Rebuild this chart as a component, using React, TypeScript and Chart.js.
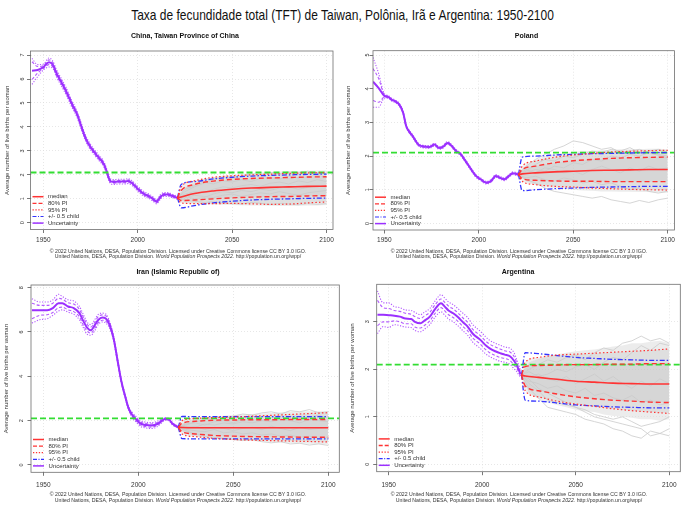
import { useEffect, useRef } from 'react';
import { Chart, registerables } from 'chart.js';

Chart.register(...registerables);

const MAIN_TITLE = 'Taxa de fecundidade total (TFT) de Taiwan, Polônia, Irã e Argentina: 1950-2100';
const Y_TITLE = 'Average number of live births per woman';
const FOOT_1 = '© 2022 United Nations, DESA, Population Division. Licensed under Creative Commons license CC BY 3.0 IGO.';
const FOOT_2A = 'United Nations, DESA, Population Division. ';
const FOOT_2B = 'World Population Prospects 2022';
const FOOT_2C = '. http://population.un.org/wpp/';
const LEGEND_LABELS = ['median', '80% PI', '95% PI', '+/- 0.5 child', 'Uncertainty'];
const X_TICKS = [1950, 2000, 2050, 2100];
const REPLACEMENT = 2.1;

const PROJ_YEARS = [2021, 2023, 2030, 2040, 2050, 2060, 2070, 2080, 2090, 2100];
const TRAJ_YEARS = [2021, 2025, 2030, 2035, 2040, 2045, 2050, 2055, 2060, 2065, 2070, 2075, 2080, 2085, 2090, 2095, 2100];

// ---- China, Taiwan Province of China
const TW_YEARS = [1944, 1947, 1950, 1953, 1955, 1957, 1960, 1962, 1965, 1968, 1970, 1972, 1974, 1976, 1979, 1982, 1983.5, 1985, 1987, 1990, 1993, 1995, 1997, 2000, 2003, 2006, 2008, 2010, 2012, 2014, 2016, 2018, 2021];
const TW_MED = [6.35, 6.38, 6.5, 6.7, 6.6, 6.23, 5.8, 5.5, 4.98, 4.5, 4.05, 3.6, 3.28, 3.05, 2.75, 2.45, 2.15, 1.8, 1.7, 1.72, 1.72, 1.74, 1.65, 1.42, 1.22, 1.1, 1.0, 0.88, 1.08, 1.18, 1.18, 1.13, 1.04];
const TW_H95 = [6.86, 6.6, 6.62, 6.88, 6.75, 6.38, 5.95, 5.65, 5.12, 4.63, 4.18, 3.72, 3.4, 3.16, 2.86, 2.56, 2.26, 1.9, 1.8, 1.82, 1.82, 1.84, 1.75, 1.52, 1.32, 1.19, 1.09, 0.97, 1.17, 1.26, 1.26, 1.2, 1.1];
const TW_L95 = [5.78, 6.1, 6.38, 6.5, 6.45, 6.08, 5.65, 5.35, 4.84, 4.37, 3.92, 3.48, 3.16, 2.94, 2.64, 2.34, 2.04, 1.7, 1.6, 1.62, 1.62, 1.64, 1.55, 1.32, 1.12, 1.01, 0.91, 0.79, 0.99, 1.1, 1.1, 1.06, 0.98];
const TW_H80 = [6.72, 6.52, 6.56, 6.8, 6.69, 6.31, 5.88, 5.58, 5.05, 4.57, 4.12, 3.66, 3.34, 3.11, 2.81, 2.51, 2.21, 1.85, 1.75, 1.77, 1.77, 1.79, 1.7, 1.47, 1.27, 1.15, 1.05, 0.93, 1.13, 1.22, 1.22, 1.17, 1.07];
const TW_L80 = [5.98, 6.25, 6.44, 6.6, 6.51, 6.15, 5.72, 5.42, 4.91, 4.43, 3.98, 3.54, 3.22, 2.99, 2.69, 2.39, 2.09, 1.75, 1.65, 1.67, 1.67, 1.69, 1.6, 1.37, 1.17, 1.05, 0.95, 0.83, 1.03, 1.14, 1.14, 1.09, 1.01];
const TW_P_MED = [1.04, 1.08, 1.22, 1.33, 1.4, 1.45, 1.48, 1.5, 1.52, 1.53];
const TW_P_H80 = [1.04, 1.35, 1.6, 1.74, 1.81, 1.85, 1.87, 1.89, 1.91, 1.92];
const TW_P_L80 = [1.04, 0.93, 0.95, 1.0, 1.04, 1.07, 1.09, 1.1, 1.12, 1.13];
const TW_P_H95 = [1.04, 1.5, 1.75, 1.9, 1.96, 2.0, 2.03, 2.06, 2.08, 2.1];
const TW_P_L95 = [1.04, 0.83, 0.8, 0.8, 0.81, 0.79, 0.77, 0.78, 0.83, 0.87];
const TW_HALF_HI = [1.04, 1.6, 1.72, 1.83, 1.9, 1.95, 1.98, 2.0, 2.02, 2.03];
const TW_HALF_LO = [1.04, 0.62, 0.72, 0.83, 0.9, 0.95, 0.98, 1.0, 1.02, 1.03];
const TW_GREY_HI = [1.04, 1.45, 1.68, 1.82, 1.9, 1.96, 2.0, 2.04, 2.07, 2.1, 2.12, 2.14, 2.15, 2.16, 2.17, 2.18, 2.18];
const TW_GREY_LO = [1.04, 0.85, 0.8, 0.78, 0.76, 0.75, 0.74, 0.73, 0.72, 0.72, 0.71, 0.7, 0.7, 0.71, 0.72, 0.72, 0.74];
const TW_TRAJ = [
  [1.04, 1.3, 1.5, 1.65, 1.8, 1.9, 1.85, 1.95, 2.05, 2.0, 2.1, 2.05, 2.12, 2.08, 2.15, 2.1, 2.05],
  [1.04, 0.95, 0.9, 0.85, 0.88, 0.82, 0.8, 0.78, 0.85, 0.82, 0.76, 0.8, 0.78, 0.75, 0.8, 0.77, 0.8],
  [1.04, 1.2, 1.3, 1.25, 1.4, 1.5, 1.45, 1.55, 1.6, 1.52, 1.65, 1.7, 1.62, 1.75, 1.68, 1.8, 1.72],
  [1.04, 1.05, 1.15, 1.1, 1.05, 1.15, 1.2, 1.1, 1.18, 1.25, 1.2, 1.3, 1.22, 1.15, 1.25, 1.3, 1.35],
  [1.04, 1.4, 1.55, 1.7, 1.62, 1.75, 1.7, 1.8, 1.72, 1.85, 1.9, 1.82, 1.95, 1.88, 1.92, 1.98, 1.9],
  [1.04, 1.1, 1.0, 1.05, 1.2, 1.3, 1.25, 1.35, 1.3, 1.4, 1.35, 1.45, 1.5, 1.4, 1.48, 1.55, 1.5],
];

// ---- Poland
const PL_YEARS = [1944, 1947, 1950, 1952, 1954, 1956, 1958, 1960, 1961.5, 1963, 1965, 1968, 1970, 1974, 1976.5, 1979, 1981, 1983.5, 1985.5, 1988, 1990.5, 1993, 1996, 1998.5, 2001, 2004, 2006.5, 2009, 2011, 2013.5, 2016, 2018, 2021];
const PL_MED = [4.21, 4.02, 3.79, 3.76, 3.67, 3.62, 3.52, 3.28, 2.9, 2.74, 2.59, 2.34, 2.29, 2.27, 2.34, 2.24, 2.27, 2.39, 2.31, 2.15, 2.05, 1.85, 1.6, 1.41, 1.31, 1.21, 1.26, 1.41, 1.36, 1.31, 1.41, 1.49, 1.45];
const PL_H95 = [4.93, 4.45, 3.85, 3.8, 3.71, 3.66, 3.56, 3.32, 2.94, 2.78, 2.63, 2.38, 2.33, 2.31, 2.38, 2.28, 2.31, 2.43, 2.35, 2.19, 2.09, 1.89, 1.64, 1.45, 1.35, 1.25, 1.3, 1.45, 1.4, 1.35, 1.45, 1.53, 1.49];
const PL_L95 = [3.45, 3.45, 3.72, 3.72, 3.63, 3.58, 3.48, 3.24, 2.86, 2.7, 2.55, 2.3, 2.25, 2.23, 2.3, 2.2, 2.23, 2.35, 2.27, 2.11, 2.01, 1.81, 1.56, 1.37, 1.27, 1.17, 1.22, 1.37, 1.32, 1.27, 1.37, 1.45, 1.41];
const PL_H80 = [4.6, 4.3, 3.82, 3.78, 3.69, 3.64, 3.54, 3.3, 2.92, 2.76, 2.61, 2.36, 2.31, 2.29, 2.36, 2.26, 2.29, 2.41, 2.33, 2.17, 2.07, 1.87, 1.62, 1.43, 1.33, 1.23, 1.28, 1.43, 1.38, 1.33, 1.43, 1.51, 1.47];
const PL_L80 = [3.65, 3.6, 3.75, 3.74, 3.65, 3.6, 3.5, 3.26, 2.88, 2.72, 2.57, 2.32, 2.27, 2.25, 2.32, 2.22, 2.25, 2.37, 2.29, 2.13, 2.03, 1.83, 1.58, 1.39, 1.29, 1.19, 1.24, 1.39, 1.34, 1.29, 1.39, 1.47, 1.43];
const PL_P_MED = [1.45, 1.47, 1.5, 1.53, 1.55, 1.57, 1.58, 1.59, 1.6, 1.6];
const PL_P_H80 = [1.45, 1.6, 1.7, 1.8, 1.86, 1.9, 1.93, 1.95, 1.96, 1.97];
const PL_P_L80 = [1.45, 1.33, 1.28, 1.26, 1.25, 1.25, 1.24, 1.24, 1.24, 1.24];
const PL_P_H95 = [1.45, 1.7, 1.85, 1.96, 2.03, 2.08, 2.12, 2.14, 2.16, 2.17];
const PL_P_L95 = [1.45, 1.25, 1.15, 1.1, 1.08, 1.05, 1.03, 1.01, 1.0, 0.99];
const PL_HALF_HI = [1.45, 1.97, 2.0, 2.03, 2.05, 2.07, 2.08, 2.09, 2.1, 2.1];
const PL_HALF_LO = [1.45, 0.97, 1.0, 1.03, 1.05, 1.07, 1.08, 1.09, 1.1, 1.1];
const PL_GREY_HI = [1.45, 1.7, 1.88, 2.0, 2.05, 2.1, 2.12, 2.15, 2.15, 2.17, 2.18, 2.2, 2.2, 2.2, 2.22, 2.22, 2.2];
const PL_GREY_LO = [1.45, 1.25, 1.15, 1.08, 1.05, 1.02, 1.0, 0.98, 0.97, 0.95, 0.95, 0.94, 0.94, 0.93, 0.93, 0.92, 0.92];
const PL_TRAJ = [
  [1.45, 1.7, 1.9, 2.05, 2.2, 2.3, 2.45, 2.4, 2.3, 2.2, 2.25, 2.1, 2.15, 2.2, 2.1, 2.05, 2.0],
  [1.45, 1.3, 1.2, 1.05, 0.95, 0.9, 0.85, 0.8, 0.75, 0.8, 0.7, 0.65, 0.6, 0.68, 0.62, 0.7, 0.75],
  [1.45, 1.5, 1.6, 1.55, 1.7, 1.65, 1.8, 1.75, 1.9, 1.85, 2.0, 1.95, 2.05, 2.0, 2.1, 2.02, 1.95],
  [1.45, 1.35, 1.4, 1.3, 1.25, 1.35, 1.3, 1.2, 1.25, 1.15, 1.2, 1.1, 1.0, 1.05, 0.95, 0.9, 0.95],
  [1.45, 1.6, 1.5, 1.65, 1.6, 1.5, 1.55, 1.45, 1.6, 1.7, 1.6, 1.5, 1.65, 1.55, 1.7, 1.6, 1.65],
  [1.45, 1.55, 1.75, 1.9, 1.85, 2.0, 1.95, 2.05, 2.15, 2.1, 2.2, 2.15, 2.25, 2.1, 2.15, 2.2, 2.1],
];

// ---- Iran (Islamic Republic of)
const IR_YEARS = [1944, 1948, 1952, 1955, 1958, 1960, 1963, 1966, 1969, 1971, 1973, 1975, 1977, 1979, 1981, 1983, 1985, 1987, 1989, 1991, 1993, 1995, 1997, 1999, 2001, 2004, 2007, 2010, 2012, 2014, 2016, 2018, 2021];
const IR_MED = [6.98, 6.98, 6.98, 7.08, 7.3, 7.3, 7.15, 7.08, 6.85, 6.5, 6.2, 6.08, 6.3, 6.55, 6.65, 6.6, 6.3, 5.7, 4.75, 3.8, 3.12, 2.53, 2.23, 2.05, 1.88, 1.8, 1.78, 1.85, 1.97, 2.08, 2.06, 1.86, 1.7];
const IR_H95 = [7.5, 7.35, 7.35, 7.45, 7.7, 7.6, 7.45, 7.4, 7.15, 6.8, 6.45, 6.33, 6.55, 6.8, 6.85, 6.8, 6.45, 5.82, 4.85, 3.88, 3.2, 2.62, 2.35, 2.18, 2.01, 1.93, 1.91, 1.97, 2.06, 2.14, 2.12, 1.92, 1.74];
const IR_L95 = [6.4, 6.55, 6.6, 6.75, 6.95, 7.0, 6.9, 6.8, 6.55, 6.2, 5.9, 5.85, 6.05, 6.35, 6.45, 6.4, 6.15, 5.6, 4.65, 3.72, 3.04, 2.44, 2.12, 1.92, 1.75, 1.67, 1.65, 1.73, 1.88, 2.02, 2.0, 1.8, 1.66];
const IR_H80 = [7.3, 7.2, 7.2, 7.3, 7.52, 7.48, 7.32, 7.26, 7.02, 6.68, 6.35, 6.22, 6.44, 6.7, 6.77, 6.72, 6.39, 5.77, 4.81, 3.85, 3.17, 2.58, 2.3, 2.12, 1.95, 1.87, 1.85, 1.92, 2.02, 2.11, 2.09, 1.89, 1.72];
const IR_L80 = [6.6, 6.75, 6.78, 6.88, 7.1, 7.12, 7.0, 6.92, 6.68, 6.32, 6.05, 5.95, 6.16, 6.42, 6.53, 6.48, 6.21, 5.64, 4.69, 3.75, 3.07, 2.48, 2.16, 1.98, 1.81, 1.73, 1.71, 1.78, 1.92, 2.05, 2.03, 1.83, 1.68];
const IR_P_MED = [1.7, 1.69, 1.68, 1.68, 1.68, 1.68, 1.68, 1.68, 1.68, 1.68];
const IR_P_H80 = [1.7, 1.88, 1.97, 2.02, 2.03, 2.04, 2.04, 2.05, 2.05, 2.05];
const IR_P_L80 = [1.7, 1.5, 1.4, 1.33, 1.3, 1.28, 1.27, 1.26, 1.25, 1.25];
const IR_P_H95 = [1.7, 2.0, 2.1, 2.14, 2.16, 2.2, 2.24, 2.28, 2.32, 2.36];
const IR_P_L95 = [1.7, 1.4, 1.28, 1.2, 1.15, 1.12, 1.1, 1.08, 1.06, 1.04];
const IR_HALF_HI = [1.7, 2.19, 2.18, 2.18, 2.18, 2.18, 2.18, 2.18, 2.18, 2.18];
const IR_HALF_LO = [1.7, 1.19, 1.18, 1.18, 1.18, 1.18, 1.18, 1.18, 1.18, 1.18];
const IR_GREY_HI = [1.7, 1.95, 2.08, 2.15, 2.2, 2.22, 2.25, 2.28, 2.3, 2.32, 2.35, 2.38, 2.4, 2.4, 2.42, 2.42, 2.42];
const IR_GREY_LO = [1.7, 1.42, 1.3, 1.22, 1.18, 1.15, 1.12, 1.1, 1.08, 1.06, 1.04, 1.02, 1.0, 0.98, 0.96, 0.95, 0.92];
const IR_TRAJ = [
  [1.7, 1.8, 1.95, 2.05, 2.15, 2.1, 2.2, 2.3, 2.25, 2.35, 2.4, 2.3, 2.45, 2.4, 2.5, 2.35, 2.4],
  [1.7, 1.55, 1.4, 1.3, 1.25, 1.2, 1.15, 1.1, 1.15, 1.05, 1.0, 1.05, 0.95, 0.98, 0.9, 0.95, 0.88],
  [1.7, 1.75, 1.7, 1.85, 1.8, 1.9, 1.85, 1.95, 1.9, 2.0, 1.95, 2.05, 2.0, 1.9, 2.05, 2.0, 1.95],
  [1.7, 1.6, 1.55, 1.5, 1.6, 1.45, 1.5, 1.4, 1.45, 1.35, 1.4, 1.3, 1.35, 1.25, 1.3, 1.2, 1.25],
  [1.7, 1.65, 1.75, 1.6, 1.7, 1.65, 1.55, 1.65, 1.7, 1.6, 1.75, 1.65, 1.55, 1.7, 1.6, 1.65, 1.7],
  [1.7, 1.85, 1.9, 1.8, 1.95, 2.0, 1.9, 2.05, 2.1, 2.0, 2.15, 2.1, 2.2, 2.05, 2.15, 2.25, 2.1],
];

// ---- Argentina
const AR_YEARS = [1944, 1947, 1950, 1953, 1956, 1959, 1962, 1964, 1967, 1969, 1972, 1975, 1978, 1980, 1982, 1984.5, 1987, 1990, 1992, 1995, 1999, 2002, 2004, 2007, 2009.5, 2012, 2015, 2017, 2018.5, 2020.5];
const AR_MED = [3.15, 3.15, 3.14, 3.13, 3.11, 3.07, 3.06, 3.0, 2.97, 3.02, 3.11, 3.28, 3.39, 3.32, 3.24, 3.18, 3.1, 2.98, 2.91, 2.75, 2.62, 2.5, 2.44, 2.38, 2.34, 2.31, 2.27, 2.18, 2.08, 1.9];
const AR_H95 = [3.65, 3.4, 3.4, 3.32, 3.3, 3.25, 3.24, 3.2, 3.15, 3.2, 3.28, 3.45, 3.57, 3.5, 3.42, 3.36, 3.28, 3.17, 3.1, 2.94, 2.8, 2.68, 2.61, 2.55, 2.51, 2.47, 2.44, 2.35, 2.2, 1.98];
const AR_L95 = [2.75, 2.9, 2.88, 2.94, 2.92, 2.89, 2.88, 2.82, 2.79, 2.84, 2.94, 3.11, 3.21, 3.14, 3.06, 3.0, 2.92, 2.8, 2.73, 2.57, 2.44, 2.32, 2.27, 2.21, 2.17, 2.15, 2.1, 2.01, 1.95, 1.82];
const AR_H80 = [3.45, 3.3, 3.28, 3.24, 3.22, 3.18, 3.16, 3.11, 3.07, 3.12, 3.2, 3.37, 3.48, 3.41, 3.33, 3.27, 3.19, 3.07, 3.0, 2.84, 2.71, 2.59, 2.53, 2.47, 2.43, 2.39, 2.36, 2.27, 2.14, 1.94];
const AR_L80 = [2.92, 3.0, 3.0, 3.02, 3.0, 2.96, 2.96, 2.89, 2.87, 2.92, 3.02, 3.19, 3.3, 3.23, 3.15, 3.09, 3.01, 2.89, 2.82, 2.66, 2.53, 2.41, 2.35, 2.29, 2.25, 2.23, 2.18, 2.09, 2.02, 1.86];
const AR_P_MED = [1.88, 1.86, 1.83, 1.79, 1.75, 1.73, 1.71, 1.7, 1.69, 1.69];
const AR_P_H80 = [1.88, 2.06, 2.08, 2.09, 2.1, 2.1, 2.11, 2.11, 2.12, 2.12];
const AR_P_L80 = [1.88, 1.65, 1.55, 1.48, 1.42, 1.38, 1.35, 1.33, 1.31, 1.3];
const AR_P_H95 = [1.88, 2.15, 2.25, 2.3, 2.32, 2.34, 2.36, 2.38, 2.4, 2.43];
const AR_P_L95 = [1.88, 1.55, 1.42, 1.33, 1.27, 1.22, 1.17, 1.13, 1.1, 1.07];
const AR_HALF_HI = [1.88, 2.35, 2.33, 2.29, 2.25, 2.23, 2.21, 2.2, 2.19, 2.19];
const AR_HALF_LO = [1.88, 1.35, 1.33, 1.29, 1.25, 1.23, 1.21, 1.2, 1.19, 1.19];
const AR_GREY_HI = [1.88, 2.15, 2.22, 2.28, 2.32, 2.35, 2.38, 2.4, 2.42, 2.45, 2.48, 2.5, 2.55, 2.55, 2.58, 2.6, 2.55];
const AR_GREY_LO = [1.88, 1.5, 1.38, 1.3, 1.25, 1.2, 1.15, 1.12, 1.1, 1.05, 1.02, 1.0, 0.98, 0.95, 0.95, 0.92, 0.95];
const AR_TRAJ = [
  [1.88, 1.6, 1.4, 1.2, 1.15, 1.1, 1.05, 0.95, 0.9, 0.85, 0.75, 0.7, 0.6, 0.55, 0.7, 0.65, 0.75],
  [1.88, 2.0, 2.1, 2.2, 2.15, 2.25, 2.3, 2.2, 2.35, 2.45, 2.4, 2.55, 2.6, 2.7, 2.6, 2.65, 2.55],
  [1.88, 1.7, 1.55, 1.35, 1.3, 1.25, 1.2, 1.1, 1.0, 0.95, 0.9, 0.85, 0.8, 0.75, 0.6, 0.65, 0.6],
  [1.88, 1.95, 1.85, 1.9, 2.0, 1.95, 2.05, 2.1, 2.0, 2.15, 2.25, 2.2, 2.35, 2.5, 2.4, 2.55, 2.5],
  [1.88, 1.75, 1.7, 1.6, 1.65, 1.55, 1.5, 1.6, 1.45, 1.5, 1.4, 1.35, 1.45, 1.3, 1.35, 1.25, 1.3],
  [1.88, 1.85, 1.9, 1.8, 1.75, 1.85, 1.7, 1.8, 1.9, 1.75, 1.85, 1.7, 1.6, 1.75, 1.65, 1.8, 1.7],
  [1.88, 1.8, 1.6, 1.5, 1.4, 1.3, 1.2, 1.15, 1.05, 1.0, 0.95, 1.0, 0.9, 0.8, 0.85, 0.9, 1.0],
];

interface Country {
  name: string;
  years: number[]; med: number[]; h95: number[]; l95: number[]; h80: number[]; l80: number[];
  pMed: number[]; pH80: number[]; pL80: number[]; pH95: number[]; pL95: number[];
  halfHi: number[]; halfLo: number[]; greyHi: number[]; greyLo: number[]; traj: number[][];
  xRange: [number, number]; yRange: [number, number]; yTicks: number[];
}

const COUNTRIES: Country[] = [
  { name: 'China, Taiwan Province of China', years: TW_YEARS, med: TW_MED, h95: TW_H95, l95: TW_L95, h80: TW_H80, l80: TW_L80,
    pMed: TW_P_MED, pH80: TW_P_H80, pL80: TW_P_L80, pH95: TW_P_H95, pL95: TW_P_L95, halfHi: TW_HALF_HI, halfLo: TW_HALF_LO,
    greyHi: TW_GREY_HI, greyLo: TW_GREY_LO, traj: TW_TRAJ, xRange: [1943.2, 2103.4], yRange: [-0.28, 7.17], yTicks: [0, 1, 2, 3, 4, 5, 6, 7] },
  { name: 'Poland', years: PL_YEARS, med: PL_MED, h95: PL_H95, l95: PL_L95, h80: PL_H80, l80: PL_L80,
    pMed: PL_P_MED, pH80: PL_P_H80, pL80: PL_P_L80, pH95: PL_P_H95, pL95: PL_P_L95, halfHi: PL_HALF_HI, halfLo: PL_HALF_LO,
    greyHi: PL_GREY_HI, greyLo: PL_GREY_LO, traj: PL_TRAJ, xRange: [1944.0, 2103.6], yRange: [-0.197, 5.13], yTicks: [0, 1, 2, 3, 4, 5] },
  { name: 'Iran (Islamic Republic of)', years: IR_YEARS, med: IR_MED, h95: IR_H95, l95: IR_L95, h80: IR_H80, l80: IR_L80,
    pMed: IR_P_MED, pH80: IR_P_H80, pL80: IR_P_L80, pH95: IR_P_H95, pL95: IR_P_L95, halfHi: IR_HALF_HI, halfLo: IR_HALF_LO,
    greyHi: IR_GREY_HI, greyLo: IR_GREY_LO, traj: IR_TRAJ, xRange: [1943.5, 2105.8], yRange: [-0.33, 8.12], yTicks: [0, 2, 4, 6, 8] },
  { name: 'Argentina', years: AR_YEARS, med: AR_MED, h95: AR_H95, l95: AR_L95, h80: AR_H80, l80: AR_L80,
    pMed: AR_P_MED, pH80: AR_P_H80, pL80: AR_P_L80, pH95: AR_P_H95, pL95: AR_P_L95, halfHi: AR_HALF_HI, halfLo: AR_HALF_LO,
    greyHi: AR_GREY_HI, greyLo: AR_GREY_LO, traj: AR_TRAJ, xRange: [1943.6, 2105.9], yRange: [-0.155, 3.79], yTicks: [0, 1, 2, 3] },
];

// panel placement on the page and text positions inside each canvas
interface Layout {
  left: number; top: number; width: number; height: number;
  area: { l: number; t: number; r: number; b: number };
  titleX: number; titleY: number; yTitleX: number; yLabOff: number; xLabY: number; foot1Y: number; foot2Y: number;
}

const LAYOUTS: Layout[] = [
  { left: 0, top: 30, width: 341, height: 232, area: { l: 30.5, t: 21, r: 333, b: 199.5 },
    titleX: 185, titleY: 6, yTitleX: 7.3, yLabOff: 8, xLabY: 210.7, foot1Y: 221.7, foot2Y: 226.7 },
  { left: 341, top: 30, width: 341, height: 232, area: { l: 32, t: 20.7, r: 333.5, b: 200 },
    titleX: 185.5, titleY: 6, yTitleX: 7.3, yLabOff: 6, xLabY: 210.7, foot1Y: 221.7, foot2Y: 226.7 },
  { left: 0, top: 262, width: 341, height: 243, area: { l: 31, t: 23, r: 339.3, b: 210.3 },
    titleX: 178, titleY: 9.7, yTitleX: 6.7, yLabOff: 10, xLabY: 223.7, foot1Y: 233, foot2Y: 239 },
  { left: 341, top: 262, width: 341, height: 243, area: { l: 35.7, t: 22.3, r: 339.3, b: 209.7 },
    titleX: 177, titleY: 9.7, yTitleX: 11.7, yLabOff: 9.5, xLabY: 223.7, foot1Y: 233, foot2Y: 239 },
];

const FONT = '"Liberation Sans", Arial, sans-serif';
const RED = '#ff3333';
const BLUE = '#3333ff';
const GREEN = '#33dd33';
const PURPLE = '#9b30ff';
const PURPLE_BAND = '#b45cff';
const GREY = '#cacaca';
const DASH_80 = [5, 3];
const DASH_95 = [1.5, 2.2];
const DASH_HALF = [5, 2, 1.5, 2];

const LEGEND_STYLES = [
  { color: RED, dash: [] as number[], width: 1.5 },
  { color: RED, dash: [4, 2], width: 1.3 },
  { color: RED, dash: [1.3, 1.6], width: 1.2 },
  { color: BLUE, dash: [4, 1.5, 1, 1.5], width: 1.2 },
  { color: PURPLE, dash: [] as number[], width: 1.5 },
];

function makeDecor(c: Country, L: Layout) {
  return {
    id: 'decor',
    afterDraw(chart: any) {
      const { ctx, chartArea: a, scales } = chart;
      ctx.save();
      ctx.strokeStyle = '#6e6e6e';
      ctx.lineWidth = 0.8;
      ctx.setLineDash([]);
      ctx.strokeRect(a.left, a.top, a.right - a.left, a.bottom - a.top);

      ctx.fillStyle = '#111';
      ctx.textAlign = 'center';
      ctx.textBaseline = 'middle';
      ctx.font = `bold 7px ${FONT}`;
      ctx.fillText(c.name, L.titleX, L.titleY);

      ctx.fillStyle = '#333';
      ctx.font = `5.5px ${FONT}`;
      for (const v of c.yTicks) {
        const y = scales.y.getPixelForValue(v);
        ctx.save();
        ctx.translate(a.left - L.yLabOff, y);
        ctx.rotate(-Math.PI / 2);
        ctx.fillText(String(v), 0, 0);
        ctx.restore();
      }
      ctx.font = `6px ${FONT}`;
      ctx.save();
      ctx.translate(L.yTitleX, (a.top + a.bottom) / 2);
      ctx.rotate(-Math.PI / 2);
      ctx.fillText(Y_TITLE, 0, 0);
      ctx.restore();

      ctx.font = `6.5px ${FONT}`;
      for (const v of X_TICKS) ctx.fillText(String(v), scales.x.getPixelForValue(v), L.xLabY);

      // legend in the lower-left corner of the plot
      ctx.font = `6px ${FONT}`;
      ctx.textAlign = 'left';
      LEGEND_LABELS.forEach((label, i) => {
        const s = LEGEND_STYLES[i];
        const y = a.bottom - 6.4 - (LEGEND_LABELS.length - 1 - i) * 6.6;
        ctx.strokeStyle = s.color;
        ctx.lineWidth = s.width;
        ctx.setLineDash(s.dash);
        ctx.beginPath();
        ctx.moveTo(a.left + 2, y);
        ctx.lineTo(a.left + 13, y);
        ctx.stroke();
        ctx.fillStyle = '#333';
        ctx.fillText(label, a.left + 17.5, y);
      });
      ctx.setLineDash([]);

      // source notes
      const cx = 178;
      ctx.fillStyle = '#333';
      ctx.textAlign = 'center';
      ctx.font = `5.2px ${FONT}`;
      ctx.fillText(FOOT_1, cx, L.foot1Y);
      const plain = `5.2px ${FONT}`;
      const ital = `italic 5.2px ${FONT}`;
      ctx.font = plain;
      const wA = ctx.measureText(FOOT_2A).width;
      const wC = ctx.measureText(FOOT_2C).width;
      ctx.font = ital;
      const wB = ctx.measureText(FOOT_2B).width;
      let x = cx - (wA + wB + wC) / 2;
      ctx.textAlign = 'left';
      ctx.font = plain;
      ctx.fillText(FOOT_2A, x, L.foot2Y);
      x += wA;
      ctx.font = ital;
      ctx.fillText(FOOT_2B, x, L.foot2Y);
      x += wB;
      ctx.font = plain;
      ctx.fillText(FOOT_2C, x, L.foot2Y);
      ctx.restore();
    },
  };
}

function line(xs: number[], ys: number[], color: string, width: number, dash: number[], extra: object = {}) {
  return {
    data: xs.map((x, i) => ({ x, y: ys[i] })),
    borderColor: color,
    borderWidth: width,
    borderDash: dash,
    pointRadius: 0,
    fill: false,
    cubicInterpolationMode: 'monotone',
    ...extra,
  };
}

function buildConfig(c: Country, L: Layout): any {
  const jagged = { cubicInterpolationMode: 'default', tension: 0 };
  const datasets = [
    line(PROJ_YEARS, c.pMed, RED, 1.6, []),
    line(PROJ_YEARS, c.pH80, RED, 1.4, DASH_80, { fill: '+1', backgroundColor: 'rgba(175,175,175,0.2)' }),
    line(PROJ_YEARS, c.pL80, RED, 1.4, DASH_80),
    line(PROJ_YEARS, c.pH95, RED, 1.2, DASH_95, { fill: '+1', backgroundColor: 'rgba(190,190,190,0.26)' }),
    line(PROJ_YEARS, c.pL95, RED, 1.2, DASH_95),
    line(PROJ_YEARS, c.halfHi, BLUE, 1.3, DASH_HALF),
    line(PROJ_YEARS, c.halfLo, BLUE, 1.3, DASH_HALF),
    line(c.xRange, [REPLACEMENT, REPLACEMENT], GREEN, 1.8, [6, 3]),
    line(c.years, c.med, PURPLE, 2, []),
    line(c.years, c.h80, PURPLE_BAND, 1.1, [3, 2]),
    line(c.years, c.l80, PURPLE_BAND, 1.1, [3, 2]),
    line(c.years, c.h95, PURPLE_BAND, 1.1, [1.2, 1.5]),
    line(c.years, c.l95, PURPLE_BAND, 1.1, [1.2, 1.5]),
    ...c.traj.map((t) => line(TRAJ_YEARS, t, GREY, 0.8, [], jagged)),
    line(TRAJ_YEARS, c.greyHi, 'transparent', 1, [], { ...jagged, fill: '+1', backgroundColor: 'rgba(218,218,218,0.5)' }),
    line(TRAJ_YEARS, c.greyLo, 'transparent', 1, [], jagged),
  ];
  const grid = { color: '#dcdcdc', lineWidth: 0.7, drawTicks: true, tickLength: 3.5, tickColor: '#555', tickWidth: 0.8, tickBorderDash: [] };
  return {
    type: 'line',
    data: { datasets },
    options: {
      responsive: true,
      maintainAspectRatio: false,
      animation: false,
      events: [],
      layout: { padding: { left: 0, top: L.area.t, right: L.width - L.area.r, bottom: 0 } },
      plugins: {
        legend: { display: false },
        title: { display: false },
        tooltip: { enabled: false },
        filler: { drawTime: 'beforeDatasetsDraw', propagate: false },
      },
      scales: {
        x: {
          type: 'linear', min: c.xRange[0], max: c.xRange[1],
          afterBuildTicks: (s: any) => { s.ticks = X_TICKS.map((v) => ({ value: v })); },
          afterFit: (s: any) => { s.height = L.height - L.area.b; s.paddingLeft = 0; s.paddingRight = 0; },
          ticks: { display: false },
          grid,
          border: { display: false, dash: [1, 2] },
        },
        y: {
          type: 'linear', min: c.yRange[0], max: c.yRange[1],
          afterBuildTicks: (s: any) => { s.ticks = c.yTicks.map((v) => ({ value: v })); },
          afterFit: (s: any) => { s.width = L.area.l; s.paddingTop = 0; s.paddingBottom = 0; },
          ticks: { display: false },
          grid,
          border: { display: false, dash: [1, 2] },
        },
      },
    },
    plugins: [makeDecor(c, L)],
  };
}

function Panel({ country, layout }: { country: Country; layout: Layout }) {
  const ref = useRef<HTMLCanvasElement>(null);
  useEffect(() => {
    if (!ref.current) return;
    const chart = new Chart(ref.current, buildConfig(country, layout));
    return () => chart.destroy();
  }, [country, layout]);
  return (
    <div style={{ position: 'absolute', left: layout.left, top: layout.top, width: layout.width, height: layout.height }}>
      <canvas ref={ref} />
    </div>
  );
}

export default function App() {
  return (
    <div style={{ position: 'absolute', left: 0, top: 0, width: 682, height: 505, background: '#fff', overflow: 'hidden' }}>
      <div style={{ position: 'absolute', left: 0, top: 0, width: 685, height: 30, lineHeight: '30px', textAlign: 'center',
        fontFamily: '"Liberation Sans", Arial, sans-serif', fontSize: 15, color: '#111',
        transform: 'scaleX(0.8)', transformOrigin: '342.5px 15px', whiteSpace: 'nowrap' }}>
        {MAIN_TITLE}
      </div>
      {COUNTRIES.map((c, i) => <Panel key={c.name} country={c} layout={LAYOUTS[i]} />)}
    </div>
  );
}
